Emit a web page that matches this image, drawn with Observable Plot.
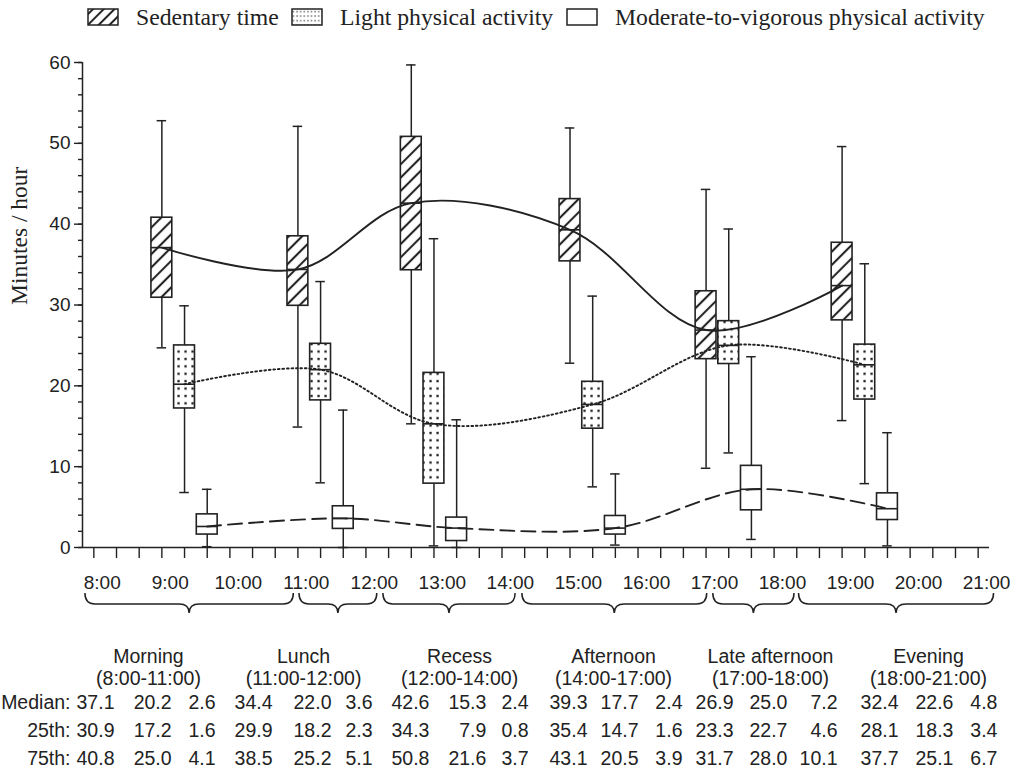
<!DOCTYPE html>
<html>
<head>
<meta charset="utf-8">
<script src="https://cdn.jsdelivr.net/npm/d3@7"></script>
<script src="https://cdn.jsdelivr.net/npm/@observablehq/plot@0.6"></script>
<style>
  body { margin: 0; background: #fff; }
  svg { display: block; }
</style>
</head>
<body>
<div id="chart"></div>
<script>
// ---------- data ----------
const periods = ["Morning", "Lunch", "Recess", "Afternoon", "Late afternoon", "Evening"];
const periodRanges = ["(8:00-11:00)", "(11:00-12:00)", "(12:00-14:00)", "(14:00-17:00)", "(17:00-18:00)", "(18:00-21:00)"];
const activities = ["Sedentary time", "Light physical activity", "Moderate-to-vigorous physical activity"];
const hourLabels = ["8:00", "9:00", "10:00", "11:00", "12:00", "13:00", "14:00", "15:00", "16:00", "17:00", "18:00", "19:00", "20:00", "21:00"];
const yTicks = [0, 10, 20, 30, 40, 50, 60];
const rowLabels = ["Median:", "25th:", "75th:"];

const sedMedian = [37.1, 34.4, 42.6, 39.3, 26.9, 32.4];
const sedQ1     = [30.9, 29.9, 34.3, 35.4, 23.3, 28.1];
const sedQ3     = [40.8, 38.5, 50.8, 43.1, 31.7, 37.7];
const sedMin    = [24.7, 14.9, 15.3, 22.8, 9.8, 15.7];
const sedMax    = [52.8, 52.1, 59.7, 51.9, 44.3, 49.6];

const lightMedian = [20.2, 22.0, 15.3, 17.7, 25.0, 22.6];
const lightQ1     = [17.2, 18.2, 7.9, 14.7, 22.7, 18.3];
const lightQ3     = [25.0, 25.2, 21.6, 20.5, 28.0, 25.1];
const lightMin    = [6.8, 8.0, 0.2, 7.5, 11.7, 7.9];
const lightMax    = [29.9, 32.9, 38.2, 31.1, 39.4, 35.1];

const mvpaMedian = [2.6, 3.6, 2.4, 2.4, 7.2, 4.8];
const mvpaQ1     = [1.6, 2.3, 0.8, 1.6, 4.6, 3.4];
const mvpaQ3     = [4.1, 5.1, 3.7, 3.9, 10.1, 6.7];
const mvpaMin    = [0.1, 0.0, 0.0, 0.3, 1.0, 0.2];
const mvpaMax    = [7.2, 17.0, 15.8, 9.1, 23.6, 14.2];

// ---------- layout (positions on the 20-minute slot axis) ----------
const periodSlot = [3, 9, 14, 21, 27, 33];          // slot of the first box of each period
const braceSpan = [[-0.37, 8.82], [9.07, 12.5], [12.77, 18.6], [18.9, 27.05], [27.32, 30.9], [31.1, 39.7]];
const headerSlot = [2.41, 9.25, 16.13, 22.92, 29.84, 36.81];
const tableRight = [
  [0.91, 3.43, 5.37], [7.88, 10.48, 12.29], [14.80, 17.31, 19.17],
  [21.77, 24.02, 25.96], [28.21, 30.59, 32.80], [35.49, 37.91, 39.85]
];
const hourSlot = (i) => i * 3 + 0.37;

const ink = "#222";
const series = [
  {name: activities[0], med: sedMedian, q1: sedQ1, q3: sedQ3, min: sedMin, max: sedMax, fill: "url(#hatch)", dash: null},
  {name: activities[1], med: lightMedian, q1: lightQ1, q3: lightQ3, min: lightMin, max: lightMax, fill: "url(#dots)", dash: "1.7 2.8"},
  {name: activities[2], med: mvpaMedian, q1: mvpaQ1, q3: mvpaQ3, min: mvpaMin, max: mvpaMax, fill: "#fff", dash: "14 7"}
];
series.forEach((s, a) => {
  s.rows = periods.map((p, i) => ({period: p, x: periodSlot[i] + a, med: s.med[i], q1: s.q1[i], q3: s.q3[i], min: s.min[i], max: s.max[i]}));
});

const halfBox = 0.46, halfCap = 0.21;

function defs() {
  const g = d3.create("svg:g");
  const d = g.append("defs");
  const h = d.append("pattern").attr("id", "hatch").attr("patternUnits", "userSpaceOnUse")
    .attr("width", 9.4).attr("height", 9.4).attr("patternTransform", "rotate(45)");
  h.append("rect").attr("width", 9.4).attr("height", 9.4).attr("fill", "#fff");
  h.append("line").attr("x1", 4.7).attr("y1", -1).attr("x2", 4.7).attr("y2", 10.4).attr("stroke", ink).attr("stroke-width", 2.1);
  const hl = d.append("pattern").attr("id", "hatchLegend").attr("patternUnits", "userSpaceOnUse")
    .attr("width", 7.6).attr("height", 7.6).attr("patternTransform", "rotate(45)");
  hl.append("rect").attr("width", 7.6).attr("height", 7.6).attr("fill", "#fff");
  hl.append("line").attr("x1", 3.8).attr("y1", -1).attr("x2", 3.8).attr("y2", 8.6).attr("stroke", ink).attr("stroke-width", 2);
  const p = d.append("pattern").attr("id", "dots").attr("patternUnits", "userSpaceOnUse").attr("width", 7).attr("height", 7.4);
  p.append("rect").attr("width", 7).attr("height", 7.4).attr("fill", "#fff");
  p.append("rect").attr("x", 2.4).attr("y", 2.6).attr("width", 2.3).attr("height", 2.3).attr("fill", ink);
  const pl = d.append("pattern").attr("id", "dotsLegend").attr("patternUnits", "userSpaceOnUse").attr("width", 3.6).attr("height", 4.5);
  pl.append("rect").attr("width", 3.6).attr("height", 4.5).attr("fill", "#fff");
  pl.append("rect").attr("x", 1.3).attr("y", 2).attr("width", 1.2).attr("height", 1.2).attr("fill", ink);
  return g.node();
}

function legend() {
  const g = d3.create("svg:g");
  const items = [
    {sx: 88, tx: 136, fill: "url(#hatchLegend)"},
    {sx: 292, tx: 340, fill: "url(#dotsLegend)"},
    {sx: 567, tx: 615, fill: "#fff"}
  ];
  items.forEach((it, i) => {
    g.append("rect").attr("x", it.sx).attr("y", 9).attr("width", 30).attr("height", 16)
      .attr("fill", it.fill).attr("stroke", ink).attr("stroke-width", 1.5);
    g.append("text").attr("x", it.tx).attr("y", 25).text(activities[i])
      .attr("text-anchor", "start")
      .attr("font-family", "'Liberation Serif', 'Times New Roman', serif").attr("font-size", 23.7).attr("fill", ink);
  });
  return g.node();
}

function braces(index, scales, values, dimensions) {
  const sx = scales.x;
  const y0 = dimensions.height - dimensions.marginBottom;
  const yTop = y0 + 46, yMid = y0 + 57, yTip = y0 + 66, r = 10;
  const g = d3.create("svg:g").attr("fill", "none").attr("stroke", ink).attr("stroke-width", 1.5);
  g.selectAll("path").data(braceSpan).join("path").attr("d", ([a, b]) => {
    const x0 = sx(a), x1 = sx(b), xm = (x0 + x1) / 2;
    return `M${x0},${yTop} Q${x0},${yMid} ${x0 + r},${yMid} L${xm - r},${yMid} Q${xm},${yMid} ${xm},${yTip} ` +
           `Q${xm},${yMid} ${xm + r},${yMid} L${x1 - r},${yMid} Q${x1},${yMid} ${x1},${yTop}`;
  });
  return g.node();
}

const marks = [defs, legend];

// whiskers, boxes, medians
series.forEach(s => {
  marks.push(
    Plot.ruleX(s.rows, {x: "x", y1: "min", y2: "q1", stroke: ink, strokeWidth: 1.5}),
    Plot.ruleX(s.rows, {x: "x", y1: "q3", y2: "max", stroke: ink, strokeWidth: 1.5}),
    Plot.ruleY(s.rows, {y: "max", x1: d => d.x - halfCap, x2: d => d.x + halfCap, stroke: ink, strokeWidth: 1.5}),
    Plot.ruleY(s.rows, {y: "min", x1: d => d.x - halfCap, x2: d => d.x + halfCap, stroke: ink, strokeWidth: 1.5}),
    Plot.rect(s.rows, {x1: d => d.x - halfBox, x2: d => d.x + halfBox, y1: "q1", y2: "q3", fill: s.fill, stroke: ink, strokeWidth: 1.6}),
    Plot.ruleY(s.rows, {y: "med", x1: d => d.x - halfBox, x2: d => d.x + halfBox, stroke: ink, strokeWidth: 1.6})
  );
});
// smooth lines through medians
series.forEach(s => {
  marks.push(Plot.line(s.rows, {x: "x", y: "med", curve: "catmull-rom", stroke: ink, strokeWidth: 1.9, strokeDasharray: s.dash}));
});

const mid = {lineAnchor: "middle", frameAnchor: "bottom", fill: ink};
// axes
marks.push(
  Plot.ruleY([0], {stroke: ink, strokeWidth: 1.5}),
  Plot.ruleX([-0.5], {y1: 0, y2: 60, stroke: ink, strokeWidth: 1.5}),
  Plot.axisY(d3.range(0, 61, 2), {tickSize: 4, tickFormat: () => "", label: null, stroke: ink, strokeWidth: 1.4}),
  Plot.axisY(yTicks, {tickSize: 8, tickPadding: 4, fontSize: 19, label: null, stroke: ink, strokeWidth: 1.4, fill: ink}),
  Plot.axisX(d3.range(0, 40), {tickSize: 11, tickFormat: () => "", label: null, stroke: ink, strokeWidth: 1.4}),
  Plot.text(hourLabels, {...mid, x: (d, i) => hourSlot(i), text: d => d, dy: 35, fontSize: 19}),
  braces,
  Plot.text(periods, {...mid, x: (d, i) => headerSlot[i], text: d => d, dy: 109, fontSize: 19.5}),
  Plot.text(periodRanges, {...mid, x: (d, i) => headerSlot[i], text: d => d, dy: 131, fontSize: 19.5}),
  Plot.text(["Minutes / hour"], {frameAnchor: "left", dx: -63, rotate: -90, text: d => d, fontSize: 23.5,
    fontFamily: "'Liberation Serif', 'Times New Roman', serif", fill: ink})
);

// table rows
const tableRows = [
  {dy: 155, cols: [sedMedian, lightMedian, mvpaMedian]},
  {dy: 183, cols: [sedQ1, lightQ1, mvpaQ1]},
  {dy: 211, cols: [sedQ3, lightQ3, mvpaQ3]}
];
tableRows.forEach((r, ri) => {
  marks.push(Plot.text([rowLabels[ri]], {...mid, frameAnchor: "bottom-left", dx: -12, dy: r.dy, text: d => d, textAnchor: "end", fontSize: 19.5}));
  r.cols.forEach((vals, ci) => {
    marks.push(Plot.text(periods, {...mid, x: (d, i) => tableRight[i][ci], text: (d, i) => vals[i].toFixed(1),
      dy: r.dy, textAnchor: "end", fontSize: 19.5}));
  });
});

const chart = Plot.plot({
  width: 1024,
  height: 771,
  marginLeft: 82,
  marginRight: 35,
  marginTop: 62,
  marginBottom: 224,
  x: {domain: [-0.5, 39.5]},
  y: {domain: [0, 60]},
  style: {fontFamily: "'Liberation Sans', Arial, sans-serif", fontSize: "19px", color: ink, background: "#fff", overflow: "visible"},
  marks
});
document.getElementById("chart").appendChild(chart);
</script>
</body>
</html>
